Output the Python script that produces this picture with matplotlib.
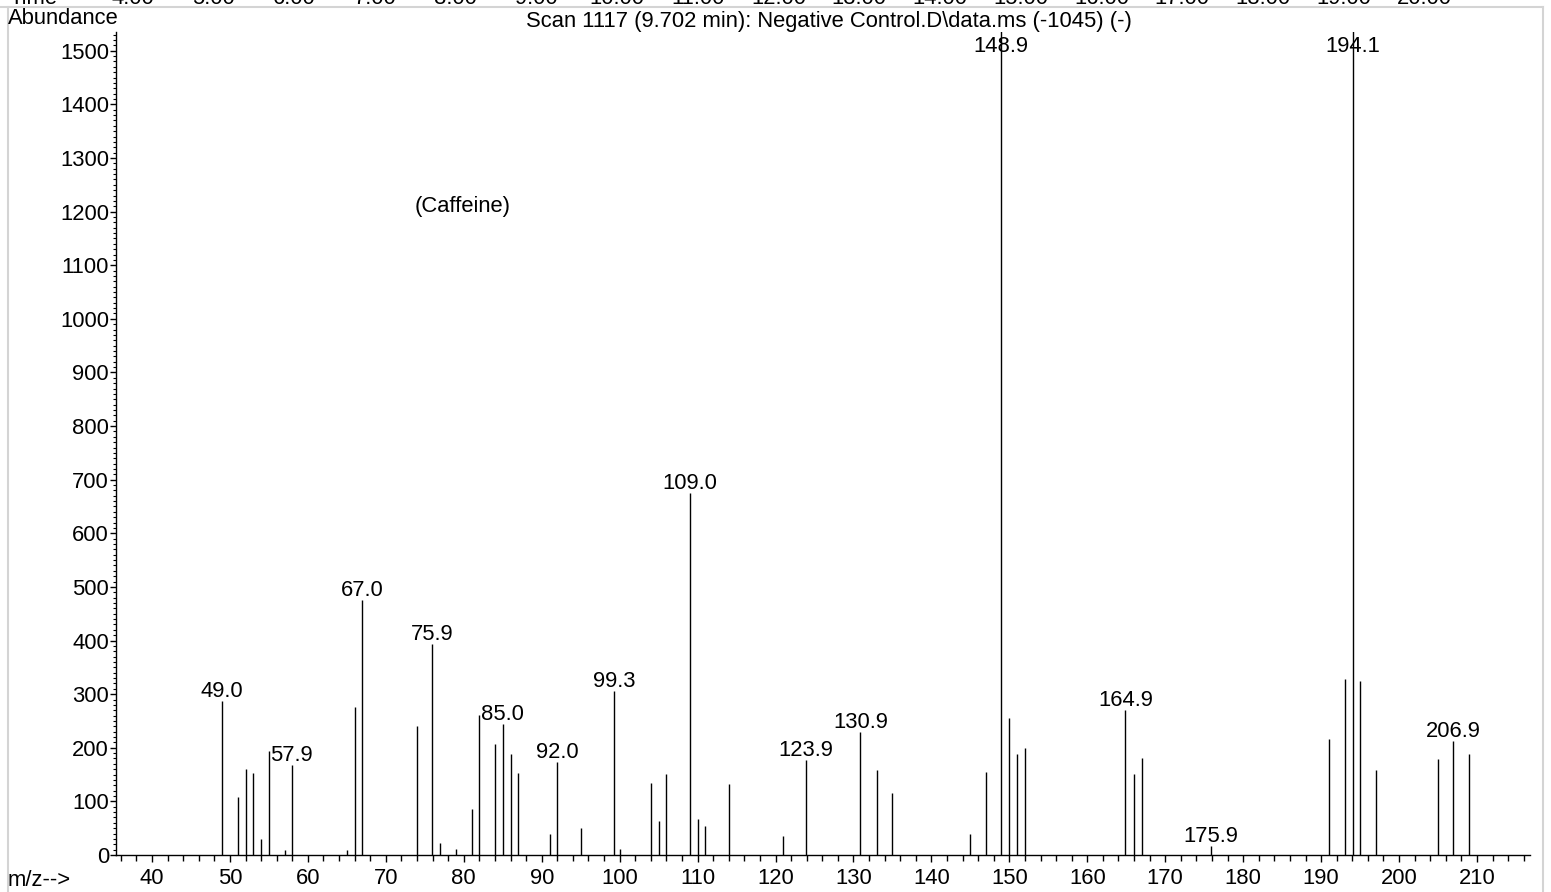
import matplotlib
matplotlib.use("Agg")
import matplotlib.pyplot as plt
from matplotlib.ticker import MultipleLocator
from matplotlib.lines import Line2D

plt.rcParams['font.family'] = ['Liberation Sans', 'DejaVu Sans']

# ---------------- data ----------------
mz = [49.0, 51, 52, 53, 54, 55, 57, 57.9, 65, 66, 67.0, 74, 75.9, 77, 79, 81, 82,
      84, 85.0, 86, 87, 91, 92.0, 95, 99.3, 100, 104, 105, 106, 109.0, 110, 111,
      114, 121, 123.9, 130.9, 133, 135, 145, 147, 148.9, 150, 151, 152, 164.9,
      166, 167, 175.9, 191, 193, 194.1, 195, 197, 205, 206.9, 209]
abundance = [287, 108, 160, 153, 30, 194, 10, 168, 9, 276, 476, 241, 394, 22, 11,
             86, 261, 207, 244, 188, 153, 39, 174, 50, 306, 11, 134, 63, 151, 675,
             68, 54, 132, 35, 177, 229, 158, 115, 39, 154, 1545, 256, 189, 200,
             271, 151, 181, 17, 216, 328, 1545, 325, 158, 179, 213, 188]
labeled_mz = [49.0, 57.9, 67.0, 75.9, 85.0, 92.0, 99.3, 109.0, 123.9, 130.9,
              148.9, 164.9, 175.9, 194.1, 206.9]
time_ticks = [4, 5, 6, 7, 8, 9, 10, 11, 12, 13, 14, 15, 16, 17, 18, 19, 20]

title = "Scan 1117 (9.702 min): Negative Control.D\\data.ms (-1045) (-)"
annotation = "(Caffeine)"

# ---------------- figure ----------------
W, H = 1551, 892
fig = plt.figure(figsize=(W / 100, H / 100), dpi=100)
FS = 15.8

def fx(px):
    return px / W

def fy(py):
    return 1 - py / H

ax = fig.add_axes([fx(116), fy(855), fx(1530) - fx(116), fy(32) - fy(855)])
XMIN, XMAX = 35.38, 216.8
YMAX = 1535
ax.set_xlim(XMIN, XMAX)
ax.set_ylim(0, YMAX)

ax.vlines(mz, 0, abundance, colors='black', linewidth=1.0)

for m in labeled_mz:
    h = abundance[mz.index(m)]
    if h >= YMAX:
        ax.annotate(f"{m:.1f}", xy=(m, YMAX), xytext=(0, -3), textcoords='offset points',
                    ha='center', va='top', fontsize=FS)
    else:
        ax.annotate(f"{m:.1f}", xy=(m, h), xytext=(0, 3), textcoords='offset points',
                    ha='center', va='baseline', fontsize=FS)

ax.text(79.8, 1209, annotation, ha='center', va='center', fontsize=FS)

for s in ['top', 'right']:
    ax.spines[s].set_visible(False)
for s in ['left', 'bottom']:
    ax.spines[s].set_linewidth(1.0)

ax.xaxis.set_major_locator(MultipleLocator(10))
ax.xaxis.set_minor_locator(MultipleLocator(2))
ax.yaxis.set_major_locator(MultipleLocator(100))
ax.yaxis.set_minor_locator(MultipleLocator(10))
ax.set_xticks(range(40, 211, 10))
ax.tick_params(axis='x', which='major', direction='out', length=5, width=1, pad=4, labelsize=FS)
ax.tick_params(axis='x', which='minor', direction='out', length=4, width=1)
ax.tick_params(axis='y', which='major', direction='out', length=4, width=1, pad=1, labelsize=FS)
ax.tick_params(axis='y', which='minor', direction='out', length=2, width=0.8)
ax.set_yticks(range(0, 1501, 100))

# header / footer texts
fig.text(fx(8), fy(18), "Abundance", ha='left', va='center', fontsize=FS)
fig.text(fx(8), fy(880), "m/z-->", ha='left', va='center', fontsize=FS)
fig.text(fx(829), fy(22), title, ha='center', va='center', fontsize=FS)

# clipped time-axis strip at the top (as in the reference)
fig.text(fx(10), fy(4), "Time", ha='left', va='baseline', fontsize=FS)
for t in time_ticks:
    fig.text(fx(133 + 80.7 * (t - 4)), fy(4), f"{t:.2f}", ha='center', va='baseline', fontsize=FS)

# light gray frame
gray = '#d4d4d4'
fig.add_artist(Line2D([fx(0), fx(1543)], [fy(7), fy(7)], color=gray, linewidth=1.5))
fig.add_artist(Line2D([fx(8), fx(8)], [fy(7), fy(892)], color=gray, linewidth=1.5))
fig.add_artist(Line2D([fx(1543), fx(1543)], [fy(7), fy(892)], color=gray, linewidth=1.5))

fig.savefig("out.png", dpi=100)
